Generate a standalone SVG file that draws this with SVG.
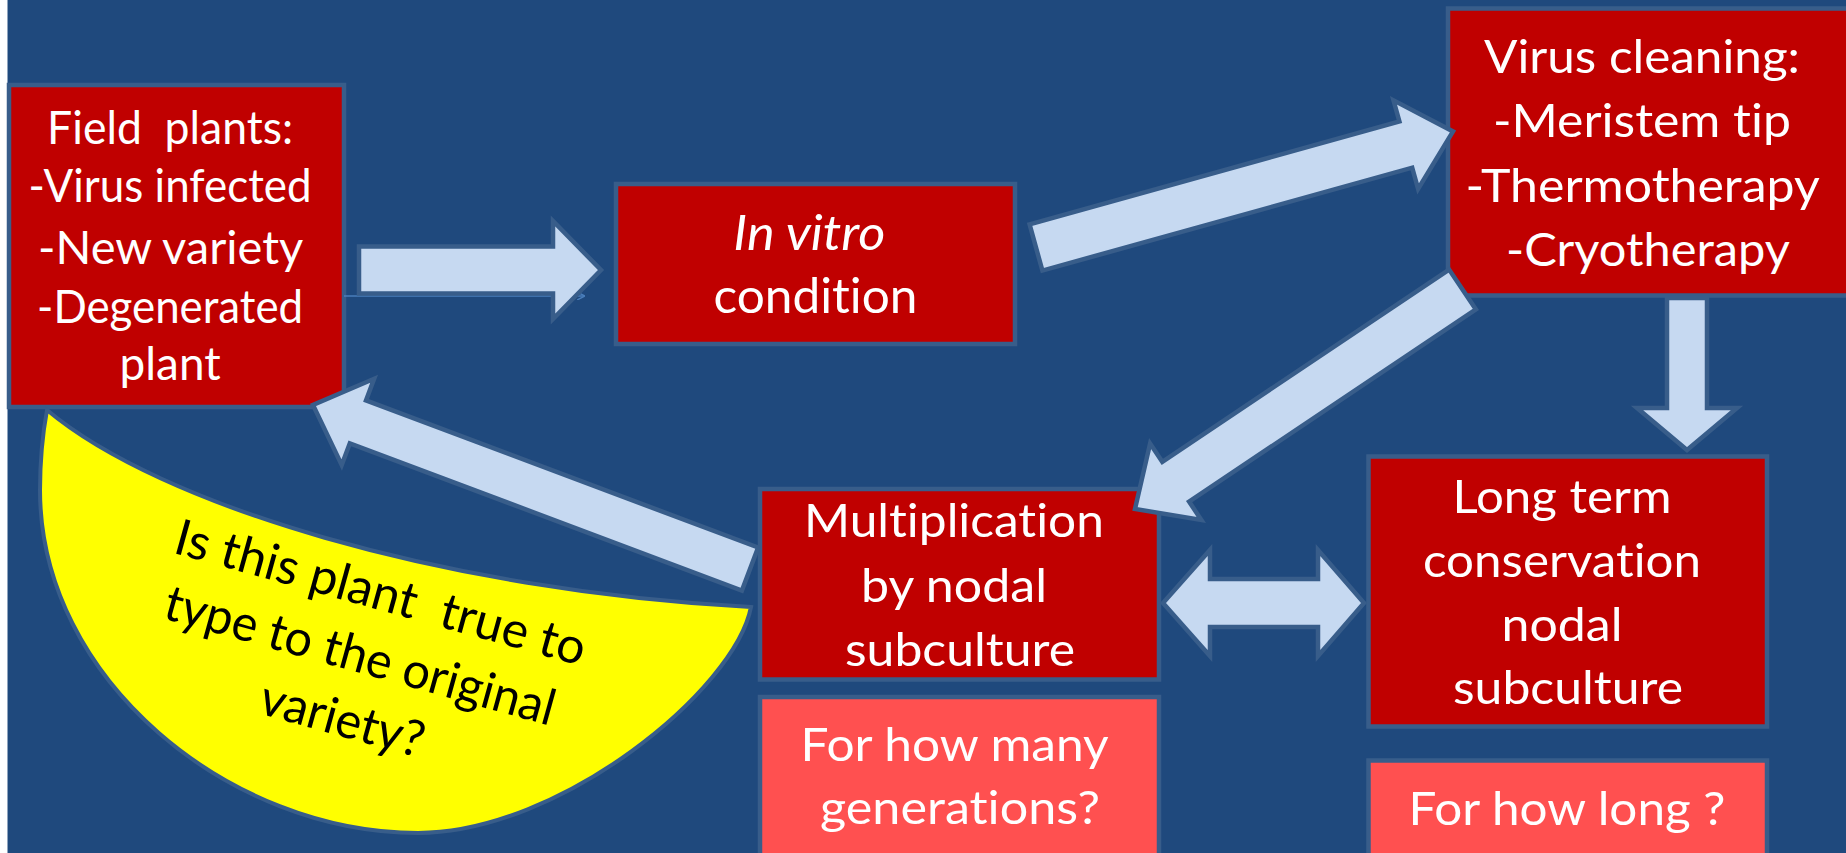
<svg xmlns="http://www.w3.org/2000/svg" width="1846" height="853" viewBox="0 0 1846 853">
<style>
.box{fill:#C00000;stroke:#385D8A;stroke-width:4.5}
.q{fill:#FF5050;stroke:#385D8A;stroke-width:4.5}
.arr{fill:#C6D9F1;stroke:#385D8A;stroke-width:4.5;stroke-linejoin:miter}
.t{font-family:Lato,"Liberation Sans",sans-serif;fill:#FFFFFF;text-anchor:middle;font-variant-ligatures:none;font-feature-settings:"liga" 0,"clig" 0}
.y{font-family:Lato,"Liberation Sans",sans-serif;fill:#000000;text-anchor:middle;font-variant-ligatures:none;font-feature-settings:"liga" 0,"clig" 0}
</style>
<defs>
<marker id="thin" markerWidth="8" markerHeight="8" refX="7" refY="4" orient="auto" markerUnits="userSpaceOnUse">
<path d="M0,0 L8,4 L0,8" fill="none" stroke="#4A7EBB" stroke-width="1.5"/>
</marker>
</defs>
<rect x="0" y="0" width="1846" height="853" fill="#1F497D"/>
<rect x="0" y="0" width="7.5" height="853" fill="#FFFFFF"/>

<g id="field">
<rect class="box" x="9" y="85" width="335" height="322"/>
<text class="t" font-size="46" xml:space="preserve">
<tspan x="176" y="144" textLength="246" lengthAdjust="spacingAndGlyphs">Field  plants:</tspan>
<tspan x="176" y="202" textLength="283" lengthAdjust="spacingAndGlyphs">-Virus infected</tspan>
<tspan x="176" y="264" textLength="264" lengthAdjust="spacingAndGlyphs">-New variety</tspan>
<tspan x="176" y="323" textLength="266" lengthAdjust="spacingAndGlyphs">-Degenerated</tspan>
<tspan x="176" y="380" textLength="101" lengthAdjust="spacingAndGlyphs">plant</tspan>
</text>
</g>

<g id="invitro">
<rect class="box" x="616" y="184" width="399" height="160"/>
<text class="t" font-size="48">
<tspan x="815.5" y="250" font-style="italic" textLength="152" lengthAdjust="spacingAndGlyphs">In vitro</tspan>
<tspan x="815.5" y="313" textLength="204" lengthAdjust="spacingAndGlyphs">condition</tspan>
</text>
</g>

<g id="virus">
<rect class="box" x="1448" y="8.5" width="420" height="287"/>
<text class="t" font-size="47">
<tspan x="1648" y="73" textLength="316" lengthAdjust="spacingAndGlyphs">Virus cleaning:</tspan>
<tspan x="1648" y="137" textLength="298" lengthAdjust="spacingAndGlyphs">-Meristem tip</tspan>
<tspan x="1648" y="202" textLength="353" lengthAdjust="spacingAndGlyphs">-Thermotherapy</tspan>
<tspan x="1648" y="266" textLength="284" lengthAdjust="spacingAndGlyphs">-Cryotherapy</tspan>
</text>
</g>

<g id="multiplication">
<rect class="box" x="760" y="489" width="399" height="190.5"/>
<text class="t" font-size="47">
<tspan x="960" y="537" textLength="300" lengthAdjust="spacingAndGlyphs">Multiplication</tspan>
<tspan x="960" y="602" textLength="186" lengthAdjust="spacingAndGlyphs">by nodal</tspan>
<tspan x="960" y="666" textLength="230" lengthAdjust="spacingAndGlyphs">subculture</tspan>
</text>
</g>

<g id="generations">
<rect class="q" x="760" y="697" width="399" height="170"/>
<text class="t" font-size="47">
<tspan x="960" y="761" textLength="307" lengthAdjust="spacingAndGlyphs">For how many</tspan>
<tspan x="960" y="824" textLength="280" lengthAdjust="spacingAndGlyphs">generations?</tspan>
</text>
</g>

<g id="longterm">
<rect class="box" x="1368.5" y="456.5" width="398.5" height="270"/>
<text class="t" font-size="47">
<tspan x="1568" y="513" textLength="219" lengthAdjust="spacingAndGlyphs">Long term</tspan>
<tspan x="1568" y="577" textLength="278" lengthAdjust="spacingAndGlyphs">conservation</tspan>
<tspan x="1568" y="641" textLength="121" lengthAdjust="spacingAndGlyphs">nodal</tspan>
<tspan x="1568" y="704" textLength="230" lengthAdjust="spacingAndGlyphs">subculture</tspan>
</text>
</g>

<g id="howlong">
<rect class="q" x="1368.5" y="760.5" width="398.5" height="120"/>
<text class="t" font-size="47" x="1567" y="825" textLength="317" lengthAdjust="spacingAndGlyphs">For how long ?</text>
</g>

<g id="question">
<path d="M47,410 C160,505 440,590 751,607 C735,690 560,833 418,833 C230,833 40,680 40,490 C40,460 43,432 47,410 Z" fill="#FFFF00" stroke="#385D8A" stroke-width="4"/>
<g transform="translate(365,662) rotate(15.5)">
<text class="y" font-size="50" xml:space="preserve">
<tspan x="3" y="-54" textLength="424" lengthAdjust="spacingAndGlyphs">Is this plant  true to</tspan>
<tspan x="0" y="12" textLength="403" lengthAdjust="spacingAndGlyphs">type to the original</tspan>
<tspan x="0" y="78" textLength="168" lengthAdjust="spacingAndGlyphs">variety?</tspan>
</text>
</g>
</g>

<g id="connectors">
<line x1="344" y1="296" x2="584" y2="296" stroke="#4A7EBB" stroke-width="1.5" marker-end="url(#thin)"/>
<polygon class="arr" points="359,246.5 553,246.5 553,221 601,270 553,319 553,293.5 359,293.5"/>
<polygon class="arr" points="1029.6,224.4 1399.4,121.5 1393.5,100.3 1453,131.5 1418.1,188.9 1412.2,167.7 1042.4,270.6"/>
<polygon class="arr" points="1449.1,269.6 1162.3,461.8 1150.1,443.5 1135,509 1201.3,519.9 1189.1,501.6 1475.9,309.4"/>
<polygon class="arr" points="758.1,547.5 366,400.4 374.1,378.8 313,405 341.7,465 349.8,443.4 741.9,590.5"/>
<polygon class="arr" points="1163,603 1210,550 1210,579 1318,579 1318,550 1364,603 1318,656 1318,627 1210,627 1210,656"/>
<polygon class="arr" points="1667,298 1707,298 1707,408 1737,408 1687,450 1637,408 1667,408"/>
</g>
</svg>
